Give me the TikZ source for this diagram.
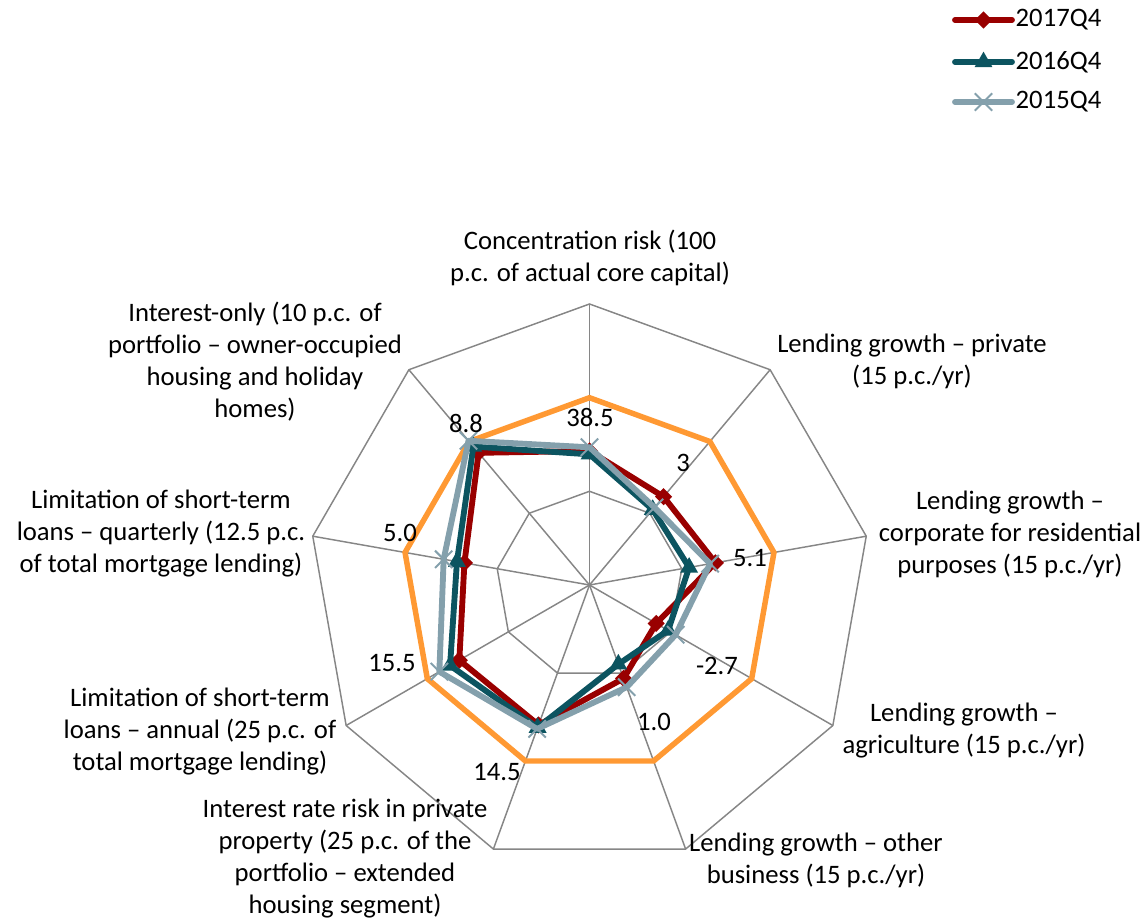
\documentclass[tikz,border=0pt]{standalone}
\usepackage{fontspec}
\setmainfont{Carlito}
\usepackage{xcolor}
\usetikzlibrary{shapes,calc}
\definecolor{q17}{RGB}{153,0,0}
\definecolor{q16}{RGB}{12,84,96}
\definecolor{q15}{RGB}{132,160,172}
\definecolor{limitorange}{RGB}{255,153,51}
\definecolor{gridgray}{RGB}{134,134,134}
\newcommand{\lblfont}{\fontsize{20}{24}\selectfont}

\begin{document}
\begin{tikzpicture}[
    x=0.75pt, y=0.75pt,
    gridline/.style={draw=gridgray, line width=1.1pt},
    limit/.style={draw=limitorange, line width=4.1pt},
    series/.style={line width=4.4pt, line join=round},
    dmark/.style={diamond, fill=q17, inner sep=0pt, minimum size=13pt},
    tmark/.style={regular polygon, regular polygon sides=3, fill=q16, inner sep=0pt, minimum size=15.5pt},
    xmark/.style={cross out, draw=q15, line width=1.5pt, inner sep=0pt, minimum size=11.5pt},
    axislabel/.style={align=center, font=\lblfont},
    vallabel/.style={font=\lblfont},
]
\useasboundingbox (0,0) rectangle (1148,920);

\begin{scope}[shift={(589.5,335)}]
% grid rings and spokes
\foreach \r in {93.7,187.3,281}
  \draw[gridline] (90:\r) \foreach \k in {1,...,8}{ -- (90-\k*40:\r)} -- cycle;
\foreach \k in {0,...,8}
  \draw[gridline] (0,0) -- (90-\k*40:281);

% threshold
\draw[limit] (90:187.3) \foreach \k in {1,...,8}{ -- (90-\k*40:187.3)} -- cycle;

% 2017Q4
\foreach \v [count=\k from 0] in {0.477,0.41,0.455,0.274,0.354,0.53,0.535,0.452,0.614}
  \coordinate (a\k) at (90-\k*40:\v*281);
\draw[series, q17] (a0) \foreach \k in {1,...,8}{ -- (a\k)} -- cycle;
\foreach \k in {0,...,8} \node[dmark] (da\k) at (a\k) {};

% 2016Q4
\foreach \v [count=\k from 0] in {0.465,0.35,0.36,0.323,0.30,0.54,0.573,0.479,0.643}
  \coordinate (b\k) at (90-\k*40:\v*281);
\draw[series, q16] (b0) \foreach \k in {1,...,8}{ -- (b\k)} -- cycle;
\foreach \k in {0,...,8} \node[tmark] (db\k) at (b\k) {};

% 2015Q4
\foreach \v [count=\k from 0] in {0.49,0.36,0.436,0.354,0.387,0.545,0.617,0.527,0.67}
  \coordinate (c\k) at (90-\k*40:\v*281);
\draw[series, q15] (c0) \foreach \k in {1,...,8}{ -- (c\k)} -- cycle;
\foreach \k in {0,...,8} \node[xmark] (dc\k) at (c\k) {};
\end{scope}

% value labels
\node[vallabel] (v0) at (590,502) {38.5};
\node[vallabel] (v1) at (683,457) {3};
\node[vallabel] (v2) at (750,362) {5.1};
\node[vallabel] (v3) at (717,254) {-2.7};
\node[vallabel] (v4) at (654,198) {1.0};
\node[vallabel] (v5) at (497,148) {14.5};
\node[vallabel] (v6) at (392,257) {15.5};
\node[vallabel] (v7) at (400,387) {5.0};
\node[vallabel] (v8) at (466,496) {8.8};

% axis labels
\node[axislabel] (ax0) at (590,662) {Concentration risk (100\\p.c. of actual core capital)};
\node[axislabel] (ax1) at (912,559) {Lending growth – private\\(15 p.c./yr)};
\node[axislabel] (ax2) at (1010,386) {Lending growth –\\corporate for residential\\purposes (15 p.c./yr)};
\node[axislabel] (ax3) at (964,189) {Lending growth –\\agriculture (15 p.c./yr)};
\node[axislabel] (ax4) at (816,60) {Lending growth – other\\business (15 p.c./yr)};
\node[axislabel] (ax5) at (345,61) {Interest rate risk in private\\property (25 p.c. of the\\portfolio – extended\\housing segment)};
\node[axislabel] (ax6) at (200,188) {Limitation of short-term\\loans – annual (25 p.c. of\\total mortgage lending)};
\node[axislabel] (ax7) at (161,386) {Limitation of short-term\\loans – quarterly (12.5 p.c.\\of total mortgage lending)};
\node[axislabel] (ax8) at (255,558) {Interest-only (10 p.c. of\\portfolio – owner-occupied\\housing and holiday\\homes)};

% legend
\coordinate (la1) at (955,900); \coordinate (lb1) at (1012,900);
\coordinate (la2) at (955,858); \coordinate (lb2) at (1012,858);
\coordinate (la3) at (955,818); \coordinate (lb3) at (1012,818);
\draw[series, q17, line cap=round] (la1) -- (lb1);
\node[dmark] (lm1) at ($(la1)!0.5!(lb1)$) {};
\draw[series, q16, line cap=round] (la2) -- (lb2);
\node[tmark] (lm2) at ($(la2)!0.5!(lb2)$) {};
\draw[series, q15, line cap=round] (la3) -- (lb3);
\node[xmark] (lm3) at ($(la3)!0.5!(lb3)$) {};
\node[vallabel, anchor=west] (lt1) at (1011,900) {2017Q4};
\node[vallabel, anchor=west] (lt2) at (1011,858) {2016Q4};
\node[vallabel, anchor=west] (lt3) at (1011,818) {2015Q4};
\end{tikzpicture}
\end{document}
